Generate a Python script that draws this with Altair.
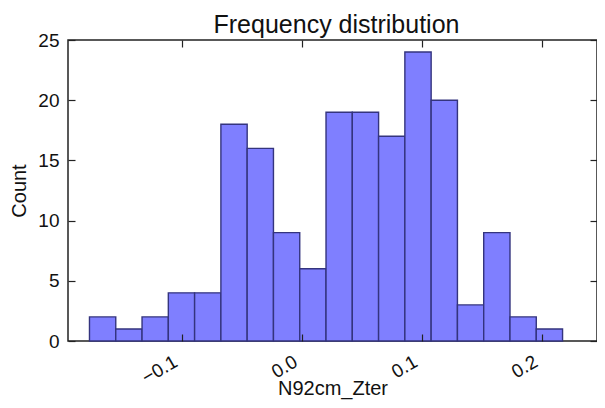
import altair as alt
import pandas as pd

# Histogram
counts = [2, 1, 2, 4, 4, 18, 16, 9, 6, 19, 19, 17, 24, 20, 3, 9, 2, 1]
bin_edges = [-0.1771, -0.1552, -0.1333, -0.1114, -0.0895, -0.0676, -0.0457,
             -0.0238, -0.0019, 0.0200, 0.0419, 0.0638, 0.0857, 0.1076,
             0.1295, 0.1514, 0.1733, 0.1952, 0.2171]
x_ticks = [-0.1, 0.0, 0.1, 0.2]
y_ticks = [0, 5, 10, 15, 20, 25]
x_domain = [-0.195, 0.2458]
y_domain = [0, 25]

df = pd.DataFrame({"start": bin_edges[:-1], "end": bin_edges[1:], "count": counts})

FONT = "Liberation Sans"
W, H = 529, 301

xscale = alt.Scale(domain=x_domain, nice=False, zero=False)
yscale = alt.Scale(domain=y_domain, nice=False)

common = dict(domain=False, grid=False, offset=-7, tickSize=7, tickColor="#222",
              tickWidth=1.2, zindex=1, labelFont=FONT, labelFontSize=19,
              labelColor="#111", titleFont=FONT, titleFontSize=20,
              titleFontWeight="normal", titleColor="#111")

bars = alt.Chart(df).mark_bar(fill="#7f7fff", stroke="#34347e", strokeWidth=1.4).encode(
    x=alt.X("start:Q", scale=xscale,
            axis=alt.Axis(orient="bottom", values=x_ticks, format=".1f",
                          labelAngle=330, labelAlign="right", labelBaseline="top",
                          labelPadding=11, labelOffset=-11,
                          title="N92cm_Zter", titleBaseline="alphabetic",
                          titlePadding=7, **common)),
    x2="end:Q",
    y=alt.Y("count:Q", scale=yscale,
            axis=alt.Axis(orient="left", values=y_ticks, labelPadding=9,
                          title="Count", titlePadding=8, **common)),
    y2=alt.datum(0),
)

frame = alt.Chart(df).mark_bar(opacity=0).encode(
    x=alt.X("start:Q", scale=xscale,
            axis=alt.Axis(orient="top", values=x_ticks, labels=False, title=None, **common)),
    x2="end:Q",
    y=alt.Y("count:Q", scale=yscale,
            axis=alt.Axis(orient="right", values=y_ticks, labels=False, title=None, **common)),
    y2=alt.datum(0),
)

chart = alt.layer(bars, frame).resolve_axis(
    x="independent", y="independent"
).properties(
    width=W, height=H,
    title=alt.TitleParams("Frequency distribution", font=FONT, fontSize=25,
                          fontWeight="normal", color="#111", anchor="middle",
                          frame="group", baseline="alphabetic", offset=-2,
                          dy=25, dx=4),
    autosize=alt.AutoSizeParams(type="none"),
    padding={"left": 60, "top": 32, "right": 0, "bottom": 59},
).configure_view(stroke="#222", strokeWidth=1.5)

chart.save("out.html", embed_options={"renderer": "svg", "actions": False})
